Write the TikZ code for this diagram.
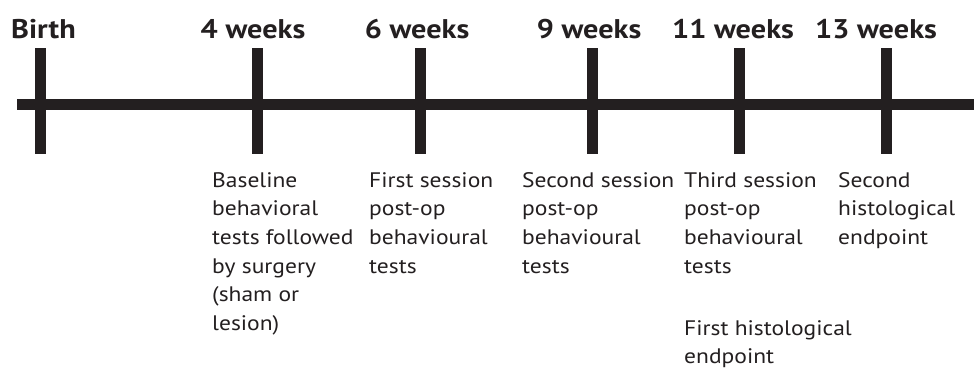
\documentclass[tikz,border=0pt]{standalone}
\usepackage{fontspec}
\setmainfont{PT Sans}[FakeStretch=1.12]
\definecolor{ink}{HTML}{231F20}
\begin{document}
\begin{tikzpicture}[x=1pt,y=-1pt,
  axis/.style={draw=ink,line width=11pt},
  tick/.style={draw=ink,line width=11pt},
  wk/.style={anchor=base,inner sep=0pt,text=ink,font=\fontsize{27}{30}\selectfont\bfseries},
  desc/.style={anchor=base west,inner sep=0pt,text=ink,align=left,font=\fontsize{21}{28.7}\selectfont}]
\useasboundingbox (0,0) rectangle (974,367);
\coordinate (L) at (17,104.5);
\coordinate (R) at (974,104.5);
\draw[axis] (L) -- (R);
\foreach \n/\x in {b/40.5,w4/257,w6/420.5,w9/592,w11/739,w13/886}{
  \coordinate (\n t) at (\x,48);
  \coordinate (\n b) at (\x,154);
  \draw[tick] (\n t) -- (\n b);
}
\node[wk] (lb) at (43.5,38) {Birth};
\node[wk] (l4) at (253,38) {4 weeks};
\node[wk] (l6) at (417,38) {6 weeks};
\node[wk] (l9) at (589,38) {9 weeks};
\node[wk] (l11) at (733,38) {11 weeks};
\node[wk] (l13) at (876,38) {13 weeks};
% base anchor = baseline of last line; first line baseline at y=187
\node[desc] (d4) at (212,330.5) {Baseline\\behavioral\\tests followed\\by surgery\\(sham or\\lesion)};
\node[desc] (d6) at (369,273.1) {First session\\post-op\\behavioural\\tests};
\node[desc] (d9) at (522,273.1) {Second session\\post-op\\behavioural\\tests};
\node[desc] (d11) at (684,273.1) {Third session\\post-op\\behavioural\\tests};
\node[desc] (d13) at (838,244.4) {Second\\histological\\endpoint};
\node[desc] (d11b) at (684,363.7) {First histological\\endpoint};
\end{tikzpicture}
\end{document}
